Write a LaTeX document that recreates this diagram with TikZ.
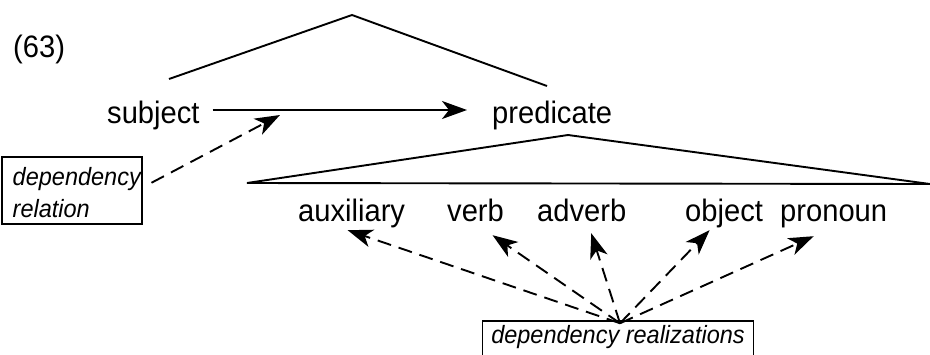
\documentclass[tikz,border=0pt]{standalone}
\usepackage{fontspec}
\setmainfont{Liberation Sans}[FakeStretch=0.94]
\usetikzlibrary{arrows.meta}
\tikzset{
  word/.style={inner sep=0pt, anchor=base west, text height=23pt, text depth=6.5pt, font=\fontsize{31}{36}\selectfont},
  tag/.style={draw, line width=1.5pt, font=\fontsize{25}{32}\selectfont\itshape},
  tree/.style={line width=1.9pt},
  arr/.style={line width=1.9pt, -{Stealth[length=25pt,width=18pt,inset=7pt]}},
  darr/.style={arr, dash pattern=on 14pt off 8pt},
}
\begin{document}
\begin{tikzpicture}[x=1pt,y=-1pt]
  \useasboundingbox (0,0) rectangle (930,354);
  \node[word] (num) at (13,57) {(63)};
  \node[word] (subj) at (107,123) {subject};
  \node[word] (pred) at (492,123) {predicate};
  \node[word] (aux) at (298,221) {auxiliary};
  \node[word] (verb) at (447,221) {verb};
  \node[word] (adv) at (537,221) {adverb};
  \node[word] (obj) at (685,221) {object};
  \node[word] (pron) at (780,221) {pronoun};
  \node[tag, anchor=north west, inner sep=0pt, text width=140pt, align=left,
        text height=29pt, text depth=38pt] (rel) at (1,156)
        {\hspace*{11pt}dependency\\\hspace*{11pt}relation};
  \node[tag, anchor=base, inner xsep=9pt, inner ysep=5pt, text height=17pt,
        text depth=9pt] (real) at (618,343) {dependency realizations};
  \draw[tree] (169,79) -- (352,15) -- (547,86);
  \draw[tree] (247,183) -- (568,135) -- (930,184) -- cycle;
  \draw[arr, shorten <=13pt, shorten >=25pt] ([yshift=4.75pt]subj.east) -- ([yshift=4.75pt]pred.west);
  \coordinate (link) at (280,115);
  \draw[darr] ([xshift=9pt,yshift=7.5pt]rel.east) -- (link);
  \foreach \w/\dx/\dy in {aux/-4/-2.5, verb/17/-7.5, adv/9.5/-5.5, obj/-14.5/-2.5, pron/-20/-8.5}
    \draw[darr] ([xshift=2pt,yshift=-3pt]real.north) -- ([xshift=\dx pt,yshift=\dy pt]\w.south);
\end{tikzpicture}
\end{document}
